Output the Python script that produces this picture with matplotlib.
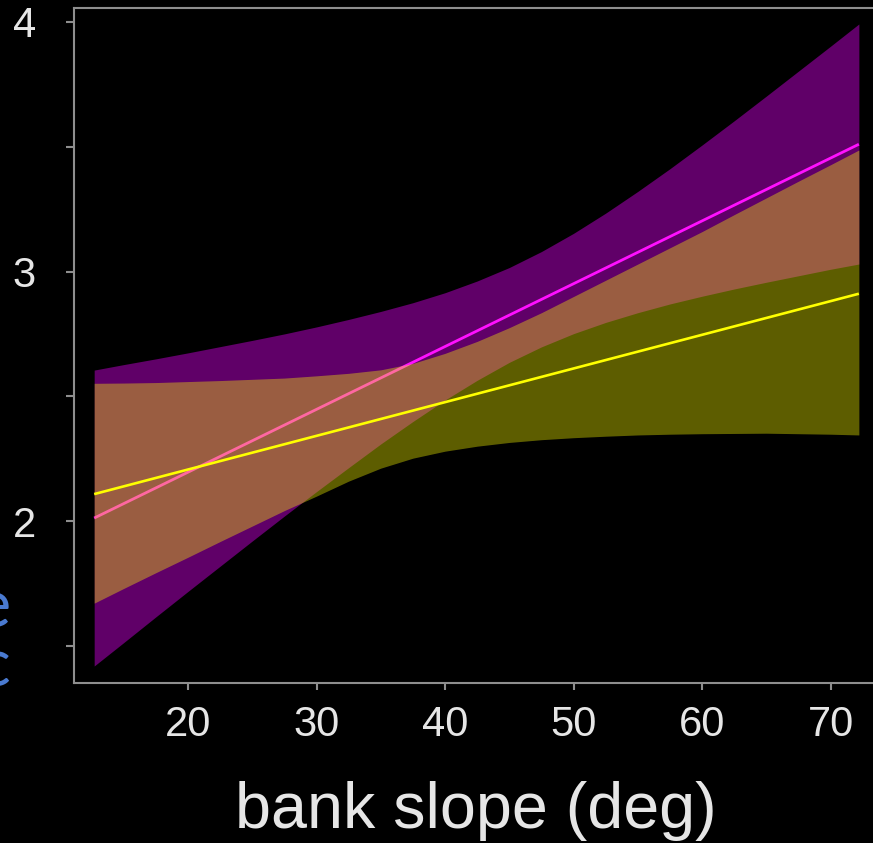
import matplotlib
matplotlib.use("Agg")
import matplotlib.pyplot as plt

# ---- data ----
x_band = [12.7, 15, 17.5, 20, 22.5, 25, 27.5, 30, 32.5, 35, 37.5, 40, 42.5, 45,
          47.5, 50, 52.5, 55, 57.5, 60, 62.5, 65, 67.5, 70, 72.2]

# purple (magenta-fit) confidence band
purple_upper = [2.605, 2.627, 2.650, 2.674, 2.699, 2.724, 2.750, 2.778, 2.808, 2.840, 2.875, 2.915, 2.962, 3.016,
                3.080, 3.153, 3.234, 3.321, 3.412, 3.507, 3.604, 3.703, 3.803, 3.903, 3.992]
purple_lower = [1.419, 1.513, 1.616, 1.718, 1.819, 1.920, 2.020, 2.118, 2.214, 2.309, 2.399, 2.485, 2.564, 2.636,
                2.698, 2.751, 2.796, 2.835, 2.870, 2.901, 2.930, 2.957, 2.983, 3.009, 3.030]

# yellow-fit confidence band
yellow_upper = [2.552, 2.553, 2.555, 2.559, 2.563, 2.568, 2.573, 2.582, 2.592, 2.606, 2.632, 2.672, 2.720, 2.775,
                2.835, 2.900, 2.965, 3.030, 3.095, 3.160, 3.228, 3.295, 3.362, 3.428, 3.487]
yellow_lower = [1.671, 1.730, 1.793, 1.855, 1.918, 1.980, 2.042, 2.100, 2.160, 2.212, 2.252, 2.280, 2.300, 2.315,
                2.326, 2.334, 2.340, 2.345, 2.348, 2.350, 2.351, 2.352, 2.350, 2.348, 2.345]

# fitted lines (endpoints)
x_line = [12.7, 72.2]
magenta_fit = [2.012, 3.510]
yellow_fit = [2.108, 2.911]

x_ticks = [20, 30, 40, 50, 60, 70]
y_ticks = [1.5, 2, 2.5, 3, 3.5, 4]
y_ticklabels = ["", "2", "", "3", "", "4"]
x_label = "bank slope (deg)"

# ---- figure ----
W, H = 873, 843
fig = plt.figure(figsize=(W / 100, H / 100), dpi=100, facecolor="black")
plt.rcParams["font.family"] = ["Liberation Sans", "DejaVu Sans"]

ax_left_px, ax_right_px = 74, 882
ax_bottom_px, ax_top_px = 683, 8
ax = fig.add_axes([ax_left_px / W, (H - ax_bottom_px) / H,
                   (ax_right_px - ax_left_px) / W, (ax_bottom_px - ax_top_px) / H])
ax.set_facecolor("black")

ax.fill_between(x_band, purple_lower, purple_upper, color="#600068", linewidth=0, zorder=1)
ax.plot(x_line, magenta_fit, color="#ff10ff", linewidth=2.0, zorder=2, solid_capstyle="butt")
ax.fill_between(x_band, yellow_lower, yellow_upper, color=(1.0, 1.0, 0.0), alpha=0.37,
                linewidth=0, zorder=3)
ax.plot(x_line, yellow_fit, color="#ffff00", linewidth=1.9, zorder=4, solid_capstyle="butt")

ax.set_xlim(11.13, 74.0)
ax.set_ylim(1.351, 4.056)

spine_col = "#8e8e8e"
for s in ax.spines.values():
    s.set_color(spine_col)
    s.set_linewidth(1.5)

ax.set_xticks(x_ticks)
ax.set_xticklabels([str(v) for v in x_ticks])
ax.set_yticks(y_ticks)
ax.set_yticklabels(y_ticklabels)
ax.tick_params(axis="x", colors=spine_col, labelcolor="#e6e6e6", labelsize=30,
               length=5, width=1.5, pad=10.5, direction="out")
ax.tick_params(axis="y", colors=spine_col, labelcolor="#e6e6e6", labelsize=30,
               length=5.5, width=1.5, pad=22, direction="out")

fig.text(476 / W, (H - 828) / H, x_label, ha="center", va="baseline",
         fontsize=46.5, color="#e6e6e6")

# cropped blue slide text at the left edge
fig.text(10 / W, (H - 627) / H, "e", ha="right", va="baseline", fontsize=48,
         color="#4a7ad0", family=["Lato", "DejaVu Sans"])
fig.text(10 / W, (H - 686) / H, "c", ha="right", va="baseline", fontsize=48,
         color="#4a7ad0", family=["Lato", "DejaVu Sans"])

fig.savefig("out.png", dpi=100, facecolor="black")
